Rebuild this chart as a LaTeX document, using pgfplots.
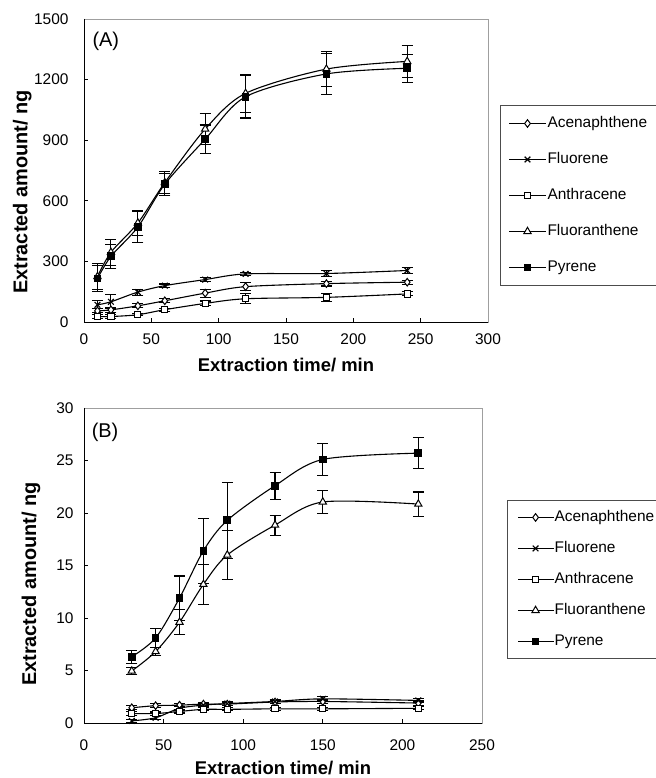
\documentclass[border=0pt]{standalone}
\usepackage{fontspec}
\setmainfont{Liberation Sans}
\usepackage{pgfplots}
\usepackage{pgfplotstable}
\pgfplotsset{compat=1.18}

\pgfplotstableread{
x y e
10 55 10
20 60 12
40 80 10
60 105 10
90 143 20
120 175 20
180 190 12
240 197 10
}\AcA
\pgfplotstableread{
x y e
10 85 20
20 100 35
40 148 15
60 180 8
90 210 10
120 238 8
180 240 15
240 255 15
}\FlA
\pgfplotstableread{
x y e
10 27 8
20 27 10
40 36 6
60 61 8
90 92 12
120 115 25
180 122 20
240 139 10
}\AnA
\pgfplotstableread{
x y e
10 225 65
20 345 65
40 490 60
60 690 55
90 955 75
120 1132 95
180 1252 88
240 1290 80
}\FtA
\pgfplotstableread{
x y e
10 215 65
20 325 60
40 470 75
60 682 55
90 905 70
120 1115 105
180 1228 100
240 1256 70
}\PyA

\pgfplotstableread{
x y e
30 1.45 0.2
45 1.65 0.2
60 1.7 0.15
75 1.8 0.15
90 1.8 0.15
120 2.0 0.15
150 2.05 0.2
210 1.9 0.2
}\AcB
\pgfplotstableread{
x y e
30 0.2 0.15
45 0.5 0.2
60 1.4 0.2
75 1.7 0.15
90 1.85 0.2
120 2.05 0.2
150 2.3 0.2
210 2.15 0.2
}\FlB
\pgfplotstableread{
x y e
30 0.9 0.2
45 0.9 0.15
60 1.1 0.15
75 1.3 0.15
90 1.3 0.15
120 1.35 0.15
150 1.35 0.15
210 1.4 0.15
}\AnB
\pgfplotstableread{
x y e
30 4.95 0.35
45 6.8 0.35
60 9.6 1.2
75 13.2 1.9
90 16.0 2.3
120 18.85 0.95
150 21.05 1.1
210 20.85 1.15
}\FtB
\pgfplotstableread{
x y e
30 6.3 0.6
45 8.1 0.9
60 11.9 2.1
75 16.4 3.1
90 19.3 3.6
120 22.6 1.3
150 25.1 1.5
210 25.7 1.5
}\PyB

\pgfplotsset{
  mystyle/.style={
    scale only axis,
    axis line style={draw=gray!75, line width=0.9bp},
    tick pos=left, tick align=inside, major tick length=4bp,
    tick style={black, line width=0.9bp},
    /pgf/number format/assume math mode=true,
    /pgf/number format/1000 sep={},
    ticklabel style={font=\fontsize{15.5}{18}\selectfont},
    xlabel style={font=\fontsize{18.5}{22}\selectfont\bfseries},
    ylabel style={font=\fontsize{20}{24}\selectfont\bfseries},
    clip=false,
    legend cell align=left,
    legend style={draw=black!70, line width=0.9bp, font=\fontsize{15.5}{18}\selectfont,
      nodes={inner sep=1bp, text height=11bp, text depth=3bp}, column sep=0bp},
  },
  ser/.style={black, line width=1.1bp, smooth,
    error bars/y dir=both, error bars/y explicit,
    error bars/error bar style={line width=1.1bp, solid},
    error bars/error mark options={rotate=90, mark size=5.5bp, line width=1.1bp, black}},
  ac/.style={ser, mark=diamond*, mark options={fill=white, solid, line width=1bp}, mark size=3.8bp},
  fl/.style={ser, mark=x, mark options={solid, line width=1.2bp}, mark size=4bp},
  an/.style={ser, mark=square*, mark options={fill=white, solid, line width=1bp}, mark size=3.1bp},
  ft/.style={ser, mark=triangle*, mark options={fill=white, solid, line width=1bp}, mark size=4.2bp},
  py/.style={ser, mark=square*, mark options={fill=black, solid}, mark size=3.3bp},
}

\begin{document}
\begin{tikzpicture}
\path[use as bounding box] (0,0) rectangle (656bp,778bp);

% Panel A
\begin{axis}[mystyle,
  at={(84bp,456bp)}, anchor=south west,
  width=404bp, height=303bp,
  xmin=0, xmax=300, ymin=0, ymax=1500,
  xtick={0,50,...,300}, ytick={0,300,...,1500},
  xticklabel style={yshift=-8bp},
  yticklabel style={xshift=-12bp},
  xlabel={Extraction time/ min},
  ylabel={Extracted amount/ ng},
  xlabel style={at={(axis description cs:0.5,-0.142)}, anchor=center},
  ylabel style={at={(axis description cs:-0.153,0.429)}, anchor=center},
  legend image code/.code={\draw[mark repeat=2,mark phase=2,#1] plot coordinates {(0bp,0bp) (18.5bp,0bp) (37bp,0bp)};},
  legend style={at={(axis description cs:1.0297,0.716)}, anchor=north west,
    row sep=20bp, inner xsep=8bp, inner ysep=10bp},
]
\addplot[ac] table[x=x, y=y, y error=e] {\AcA};
\addlegendentry{Acenaphthene}
\addplot[fl] table[x=x, y=y, y error=e] {\FlA};
\addlegendentry{Fluorene}
\addplot[an] table[x=x, y=y, y error=e] {\AnA};
\addlegendentry{Anthracene}
\addplot[ft] table[x=x, y=y, y error=e] {\FtA};
\addlegendentry{Fluoranthene}
\addplot[py] table[x=x, y=y, y error=e] {\PyA};
\addlegendentry{Pyrene}
\draw[black, line width=0.9bp] (rel axis cs:0,1) -- (rel axis cs:0,0) -- (rel axis cs:1,0);
\node[font=\fontsize{20}{24}\selectfont] at (rel axis cs:0.054,0.927) {(A)};
\end{axis}

% Panel B
\begin{axis}[mystyle,
  at={(84bp,55bp)}, anchor=south west,
  width=398bp, height=315bp,
  xmin=0, xmax=250, ymin=0, ymax=30,
  xtick={0,50,...,250}, ytick={0,5,...,30},
  xticklabel style={yshift=-13bp},
  yticklabel style={xshift=-7bp},
  xlabel={Extraction time/ min},
  ylabel={Extracted amount/ ng},
  xlabel style={at={(axis description cs:0.5,-0.143)}, anchor=center},
  ylabel style={at={(axis description cs:-0.133,0.441)}, anchor=center},
  legend image code/.code={\draw[mark repeat=2,mark phase=2,#1] plot coordinates {(0bp,0bp) (17.5bp,0bp) (35bp,0bp)};},
  legend style={at={(axis description cs:1.063,0.708)}, anchor=north west,
    row sep=15bp, inner xsep=10bp, inner ysep=9bp},
]
\addplot[ac] table[x=x, y=y, y error=e] {\AcB};
\addlegendentry{Acenaphthene}
\addplot[fl] table[x=x, y=y, y error=e] {\FlB};
\addlegendentry{Fluorene}
\addplot[an] table[x=x, y=y, y error=e] {\AnB};
\addlegendentry{Anthracene}
\addplot[ft] table[x=x, y=y, y error=e] {\FtB};
\addlegendentry{Fluoranthene}
\addplot[py] table[x=x, y=y, y error=e] {\PyB};
\addlegendentry{Pyrene}
\draw[black, line width=0.9bp] (rel axis cs:0,1) -- (rel axis cs:0,0) -- (rel axis cs:1,0);
\node[font=\fontsize{20}{24}\selectfont] at (rel axis cs:0.053,0.924) {(B)};
\end{axis}
\end{tikzpicture}
\end{document}
